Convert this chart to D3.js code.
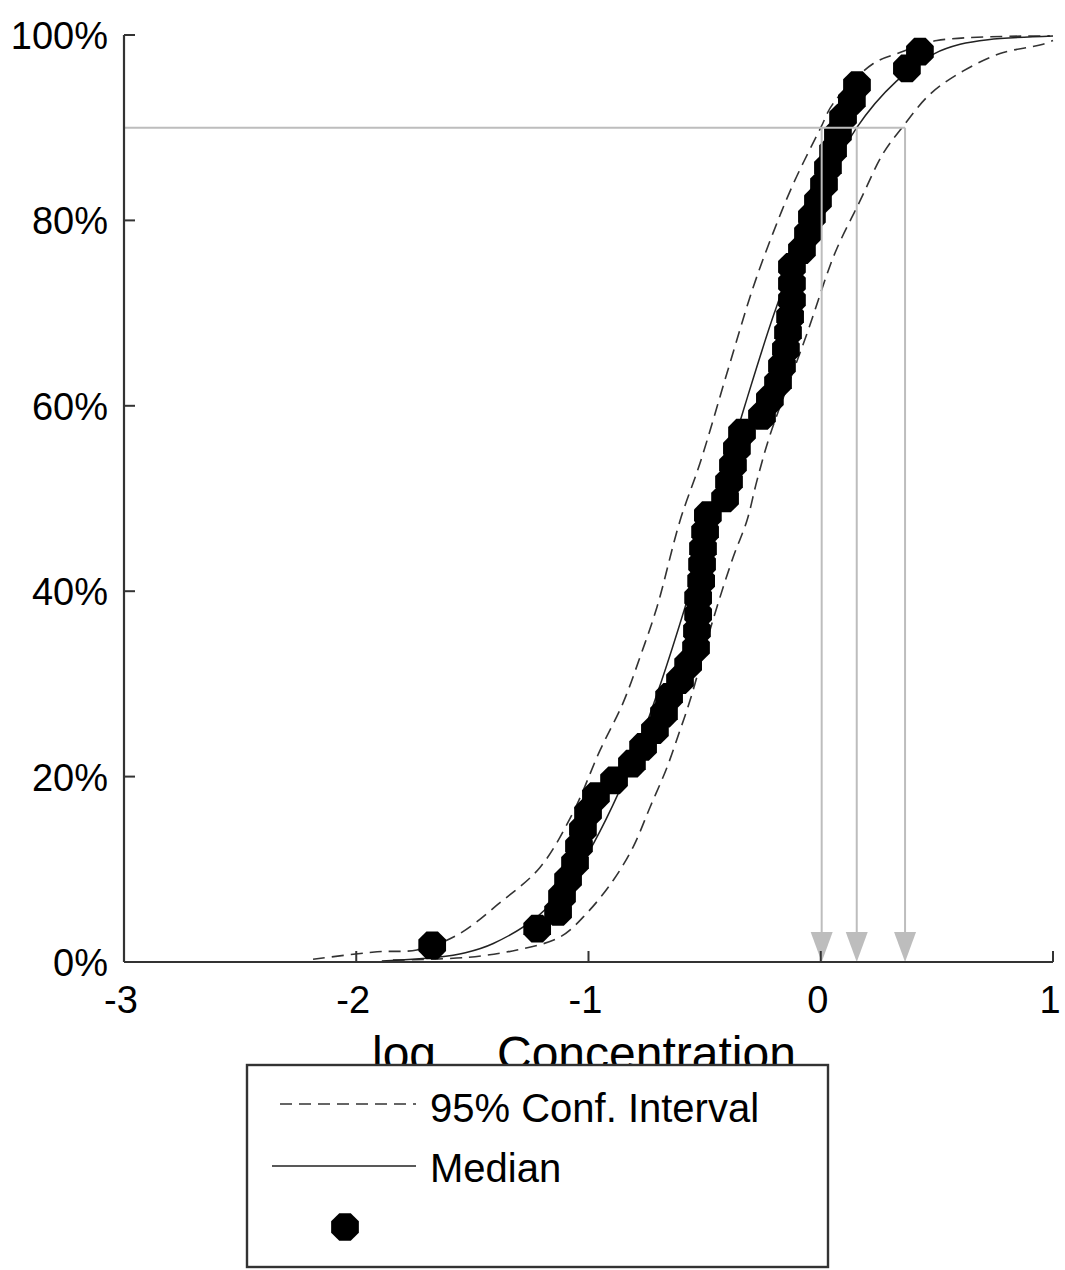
<!DOCTYPE html>
<html>
<head>
<meta charset="utf-8">
<script src="https://cdn.jsdelivr.net/npm/d3@7"></script>
<style>
  html, body { margin: 0; padding: 0; background: #fff; }
  svg { display: block; }
  text { font-family: "Liberation Sans", Arial, sans-serif; fill: #000; }
</style>
</head>
<body>
<svg id="chart" width="1065" height="1270"></svg>
<script>
// ---------- data ----------
const xTicks = [-3, -2, -1, 0, 1];
const yTicks = [0, 20, 40, 60, 80, 100];
const yTickLabels = ["0%", "20%", "40%", "60%", "80%", "100%"];

// observed points: log10 concentration vs cumulative percent
const pointX = [-1.673, -1.221, -1.131, -1.114, -1.088, -1.058, -1.041, -1.024, -1.002, -0.968,
  -0.890, -0.813, -0.765, -0.714, -0.675, -0.653, -0.606, -0.571, -0.537, -0.533,
  -0.528, -0.528, -0.515, -0.511, -0.507, -0.498, -0.486, -0.412, -0.395, -0.378,
  -0.361, -0.339, -0.253, -0.219, -0.184, -0.167, -0.150, -0.141, -0.132, -0.124,
  -0.124, -0.124, -0.081, -0.055, -0.038, -0.012, 0.014, 0.031, 0.053, 0.074,
  0.096, 0.134, 0.156, 0.371, 0.427];
const pointPct = [1.8, 3.6, 5.4, 7.1, 8.9, 10.7, 12.5, 14.3, 16.1, 17.9,
  19.6, 21.4, 23.2, 25.0, 26.8, 28.6, 30.4, 32.1, 33.9, 35.7,
  37.5, 39.3, 41.1, 42.9, 44.6, 46.4, 48.2, 50.0, 51.8, 53.6,
  55.4, 57.1, 58.9, 60.7, 62.5, 64.3, 66.1, 67.9, 69.6, 71.4,
  73.2, 75.0, 76.8, 78.6, 80.4, 82.1, 83.9, 85.7, 87.5, 89.3,
  91.1, 92.9, 94.6, 96.4, 98.2];

// median curve
const medianX = [-1.89, -1.65, -1.53, -1.41, -1.215, -1.045, -0.839, -0.690, -0.563, -0.445,
  -0.327, -0.200, -0.051, 0.155, 0.325, 0.49, 0.60, 0.72, 1.0];
const medianPct = [0.1, 0.5, 1, 2, 5, 10, 20, 30, 40, 50,
  60, 70, 80, 90, 95, 98, 99, 99.5, 99.9];

// 95% confidence interval – upper (left) bound
const upperX = [-2.186, -1.910, -1.739, -1.566, -1.381, -1.209, -1.067, -0.951, -0.852, -0.778,
  -0.705, -0.606, -0.520, -0.404, -0.292, -0.206, -0.119, 0.0, 0.053, 0.225,
  0.341, 0.500, 0.987];
const upperPct = [0.3, 1.1, 1.3, 2.9, 6.4, 10.2, 16.1, 22.8, 27.9, 32.9,
  38.3, 47.6, 53.8, 63.5, 72.7, 78.6, 83.9, 90.0, 92.6, 96.9,
  98.1, 99.4, 99.9];

// 95% confidence interval – lower (right) bound
const lowerX = [-1.842, -1.523, -1.308, -1.122, -1.006, -0.894, -0.808, -0.735, -0.662, -0.606,
  -0.563, -0.464, -0.378, -0.318, -0.275, -0.219, -0.059, 0.027, 0.070, 0.169,
  0.268, 0.350, 0.470, 0.612, 0.772, 0.957, 1.0];
const lowerPct = [0.2, 0.5, 1.3, 2.7, 5.3, 8.8, 12.4, 16.7, 21.0, 25.0,
  28.2, 36.9, 43.6, 47.6, 51.9, 56.8, 67.8, 74.2, 77.0, 82.1,
  87.2, 90.0, 93.6, 96.1, 98.0, 99.0, 99.4];

// 90th-percentile read-offs (upper CI, median, lower CI)
const thresholdPct = 90;
const thresholdX = [0.004, 0.155, 0.363];

const legendLabels = ["95% Conf. Interval", "Median", ""];

// ---------- drawing ----------
const svg = d3.select("#chart");
const x = d3.scaleLinear().domain([-3, 1]).range([124, 1053]);
const y = d3.scaleLinear().domain([0, 100]).range([962, 35]);

const line = d3.line().x(d => x(d[0])).y(d => y(d[1])).curve(d3.curveCatmullRom.alpha(0.5));
const zip = (a, b) => a.map((v, i) => [v, b[i]]);

// curves
svg.append("path").attr("d", line(zip(upperX, upperPct)))
  .attr("fill", "none").attr("stroke", "#333").attr("stroke-width", 1.6).attr("stroke-dasharray", "12,7");
svg.append("path").attr("d", line(zip(lowerX, lowerPct)))
  .attr("fill", "none").attr("stroke", "#333").attr("stroke-width", 1.6).attr("stroke-dasharray", "12,7");
svg.append("path").attr("d", line(zip(medianX, medianPct)))
  .attr("fill", "none").attr("stroke", "#222").attr("stroke-width", 1.5);

// octagon marker
function octagon(r) {
  const pts = d3.range(8).map(k => {
    const a = Math.PI / 8 + k * Math.PI / 4;
    return [r * Math.cos(a), r * Math.sin(a)];
  });
  return "M" + pts.map(p => p.join(",")).join("L") + "Z";
}
const octPath = octagon(15);

svg.append("g").selectAll("path").data(zip(pointX, pointPct)).join("path")
  .attr("d", octPath)
  .attr("transform", d => `translate(${x(d[0])},${y(d[1])})`)
  .attr("fill", "#000");

// gray read-off lines and arrows
const gray = "#bdbdbd";
svg.append("line")
  .attr("x1", x(-3)).attr("x2", x(d3.max(thresholdX)))
  .attr("y1", y(thresholdPct)).attr("y2", y(thresholdPct))
  .attr("stroke", gray).attr("stroke-width", 2);
const arrowH = 30, arrowW = 22;
thresholdX.forEach(tx => {
  svg.append("line")
    .attr("x1", x(tx)).attr("x2", x(tx))
    .attr("y1", y(thresholdPct)).attr("y2", y(0) - arrowH + 2)
    .attr("stroke", gray).attr("stroke-width", 2);
  svg.append("path")
    .attr("d", `M${x(tx) - arrowW / 2},${y(0) - arrowH} L${x(tx) + arrowW / 2},${y(0) - arrowH} L${x(tx)},${y(0)} Z`)
    .attr("fill", gray);
});

// axes
const axisColor = "#333";
svg.append("line").attr("x1", x(-3)).attr("x2", x(-3)).attr("y1", y(100)).attr("y2", y(0))
  .attr("stroke", axisColor).attr("stroke-width", 2.2);
svg.append("line").attr("x1", x(-3)).attr("x2", x(1)).attr("y1", y(0)).attr("y2", y(0))
  .attr("stroke", axisColor).attr("stroke-width", 2.2);

yTicks.forEach((t, i) => {
  if (t > 0) {
    svg.append("line").attr("x1", x(-3)).attr("x2", x(-3) + 11)
      .attr("y1", y(t)).attr("y2", y(t)).attr("stroke", axisColor).attr("stroke-width", 2);
  }
  svg.append("text").attr("x", 108).attr("y", y(t) + 14)
    .attr("text-anchor", "end").attr("font-size", 38).text(yTickLabels[i]);
});
xTicks.forEach(t => {
  if (t > -3) {
    svg.append("line").attr("x1", x(t)).attr("x2", x(t))
      .attr("y1", y(0)).attr("y2", y(0) - 11).attr("stroke", axisColor).attr("stroke-width", 2);
  }
  svg.append("text").attr("x", x(t) - 3).attr("y", 1013)
    .attr("text-anchor", "middle").attr("font-size", 38).text(String(t));
});

// x-axis title (partly hidden by legend, as in the original)
const xt = svg.append("text").attr("x", 372).attr("y", 1070).attr("font-size", 48);
xt.append("tspan").text("log");
xt.append("tspan").attr("font-size", 20).attr("dy", 10).text("10");
xt.append("tspan").attr("dy", -10).attr("x", 497).text("Concentration");

// legend
const lg = svg.append("g");
lg.append("rect").attr("x", 247).attr("y", 1065).attr("width", 581).attr("height", 202)
  .attr("fill", "#fff").attr("stroke", "#333").attr("stroke-width", 2.4);
lg.append("line").attr("x1", 280).attr("x2", 416).attr("y1", 1104).attr("y2", 1104)
  .attr("stroke", "#333").attr("stroke-width", 1.6).attr("stroke-dasharray", "12,7");
lg.append("text").attr("x", 430).attr("y", 1122).attr("font-size", 40).text(legendLabels[0]);
lg.append("line").attr("x1", 272).attr("x2", 416).attr("y1", 1166).attr("y2", 1166)
  .attr("stroke", "#222").attr("stroke-width", 1.6);
lg.append("text").attr("x", 430).attr("y", 1182).attr("font-size", 40).text(legendLabels[1]);
lg.append("path").attr("d", octPath).attr("transform", "translate(345,1227)").attr("fill", "#000");
</script>
</body>
</html>
